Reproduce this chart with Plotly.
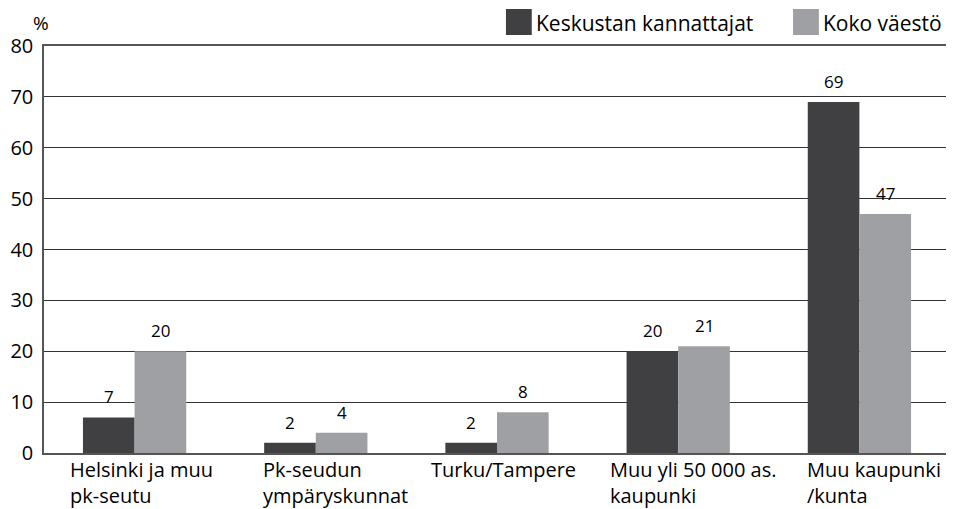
import plotly.graph_objects as go

categories = ["Helsinki ja muu<br>pk-seutu", "Pk-seudun<br>ympäryskunnat", "Turku/Tampere",
              "Muu yli 50 000 as.<br>kaupunki", "Muu kaupunki<br>/kunta"]
keskusta = [7, 2, 2, 20, 69]
koko = [20, 4, 8, 21, 47]
series_names = ["Keskustan kannattajat", "Koko väestö"]
y_ticks = [0, 10, 20, 30, 40, 50, 60, 70, 80]

DARK = "#404042"
LIGHT = "#9fa0a3"
FONT = "Open Sans"

# page body has an 8px margin: figure drawn from (8, 8)
OFF = 8
W, H = 954 - OFF, 509 - OFF
ML, MR, MT, MB = 40 - OFF, 2, 46 - OFF, 509 - 453

idx = list(range(len(categories)))
BAR_OFF = 0.143  # half of one bar width in category units (style)

fig = go.Figure()
fig.add_trace(go.Bar(x=idx, y=keskusta, name=series_names[0], marker_color=DARK,
                     marker_line_width=0))
fig.add_trace(go.Bar(x=idx, y=koko, name=series_names[1], marker_color=LIGHT,
                     marker_line_width=0))

pw = W - ML - MR
ph = H - MT - MB
def px2paper_x(px):  # px in reference coordinates
    return (px - OFF - ML) / pw
def px2paper_y(py):
    return 1 - (py - OFF - MT) / ph

annotations = []
# value labels
for i, (a, b) in enumerate(zip(keskusta, koko)):
    for xv, yv in ((i - BAR_OFF, a), (i + BAR_OFF, b)):
        annotations.append(dict(x=xv, y=yv, xref="x", yref="y", text=str(yv),
                                showarrow=False, xanchor="center", yanchor="bottom",
                                yshift=7, font=dict(size=17, family=FONT, color="#000000")))

# Category labels, left aligned
label_left_px = [64, 258, 428, 608, 806]
for lab, lx in zip(categories, label_left_px):
    annotations.append(dict(x=px2paper_x(lx), y=px2paper_y(454), xref="paper", yref="paper",
                            text=lab, showarrow=False, xanchor="left", yanchor="top",
                            align="left", font=dict(size=20, family=FONT, color="#000000")))
annotations.append(dict(x=px2paper_x(27), y=px2paper_y(8.5), xref="paper", yref="paper",
                        text="%", showarrow=False, xanchor="left", yanchor="top",
                        font=dict(size=19, family=FONT, color="#000000")))

# Legend (custom large squares)
shapes = []
leg = [(505, DARK, series_names[0]), (794, LIGHT, series_names[1])]
for x0, col, name in leg:
    shapes.append(dict(type="rect", xref="paper", yref="paper",
                       x0=px2paper_x(x0), x1=px2paper_x(x0 + 26),
                       y0=px2paper_y(35), y1=px2paper_y(9),
                       fillcolor=col, line_width=0))
    annotations.append(dict(x=px2paper_x(x0 + 28), y=px2paper_y(23), xref="paper", yref="paper",
                            text=name, showarrow=False, xanchor="left", yanchor="middle",
                            font=dict(size=21, family=FONT, color="#000000")))

fig.update_layout(
    width=W, height=H,
    margin=dict(l=ML, r=MR, t=MT, b=MB),
    paper_bgcolor="white", plot_bgcolor="white",
    barmode="group", bargap=0.43, bargroupgap=0,
    showlegend=False,
    font=dict(family=FONT, color="#000000"),
    annotations=annotations, shapes=shapes,
    xaxis=dict(range=[-0.5, 4.5], tickvals=idx, showticklabels=False, showgrid=False,
               showline=True, linecolor="#555555", linewidth=1.5, mirror=True, ticks="",
               zeroline=False),
    yaxis=dict(range=[0, 80], tickvals=y_ticks, showgrid=True, gridcolor="#333333",
               gridwidth=1, showline=True, linecolor="#555555", linewidth=1.5, mirror=True,
               ticks="", zeroline=False, tickfont=dict(size=20, family=FONT, color="#000000"),
               ticklabelstandoff=5),
)
fig.write_html("out.html")
